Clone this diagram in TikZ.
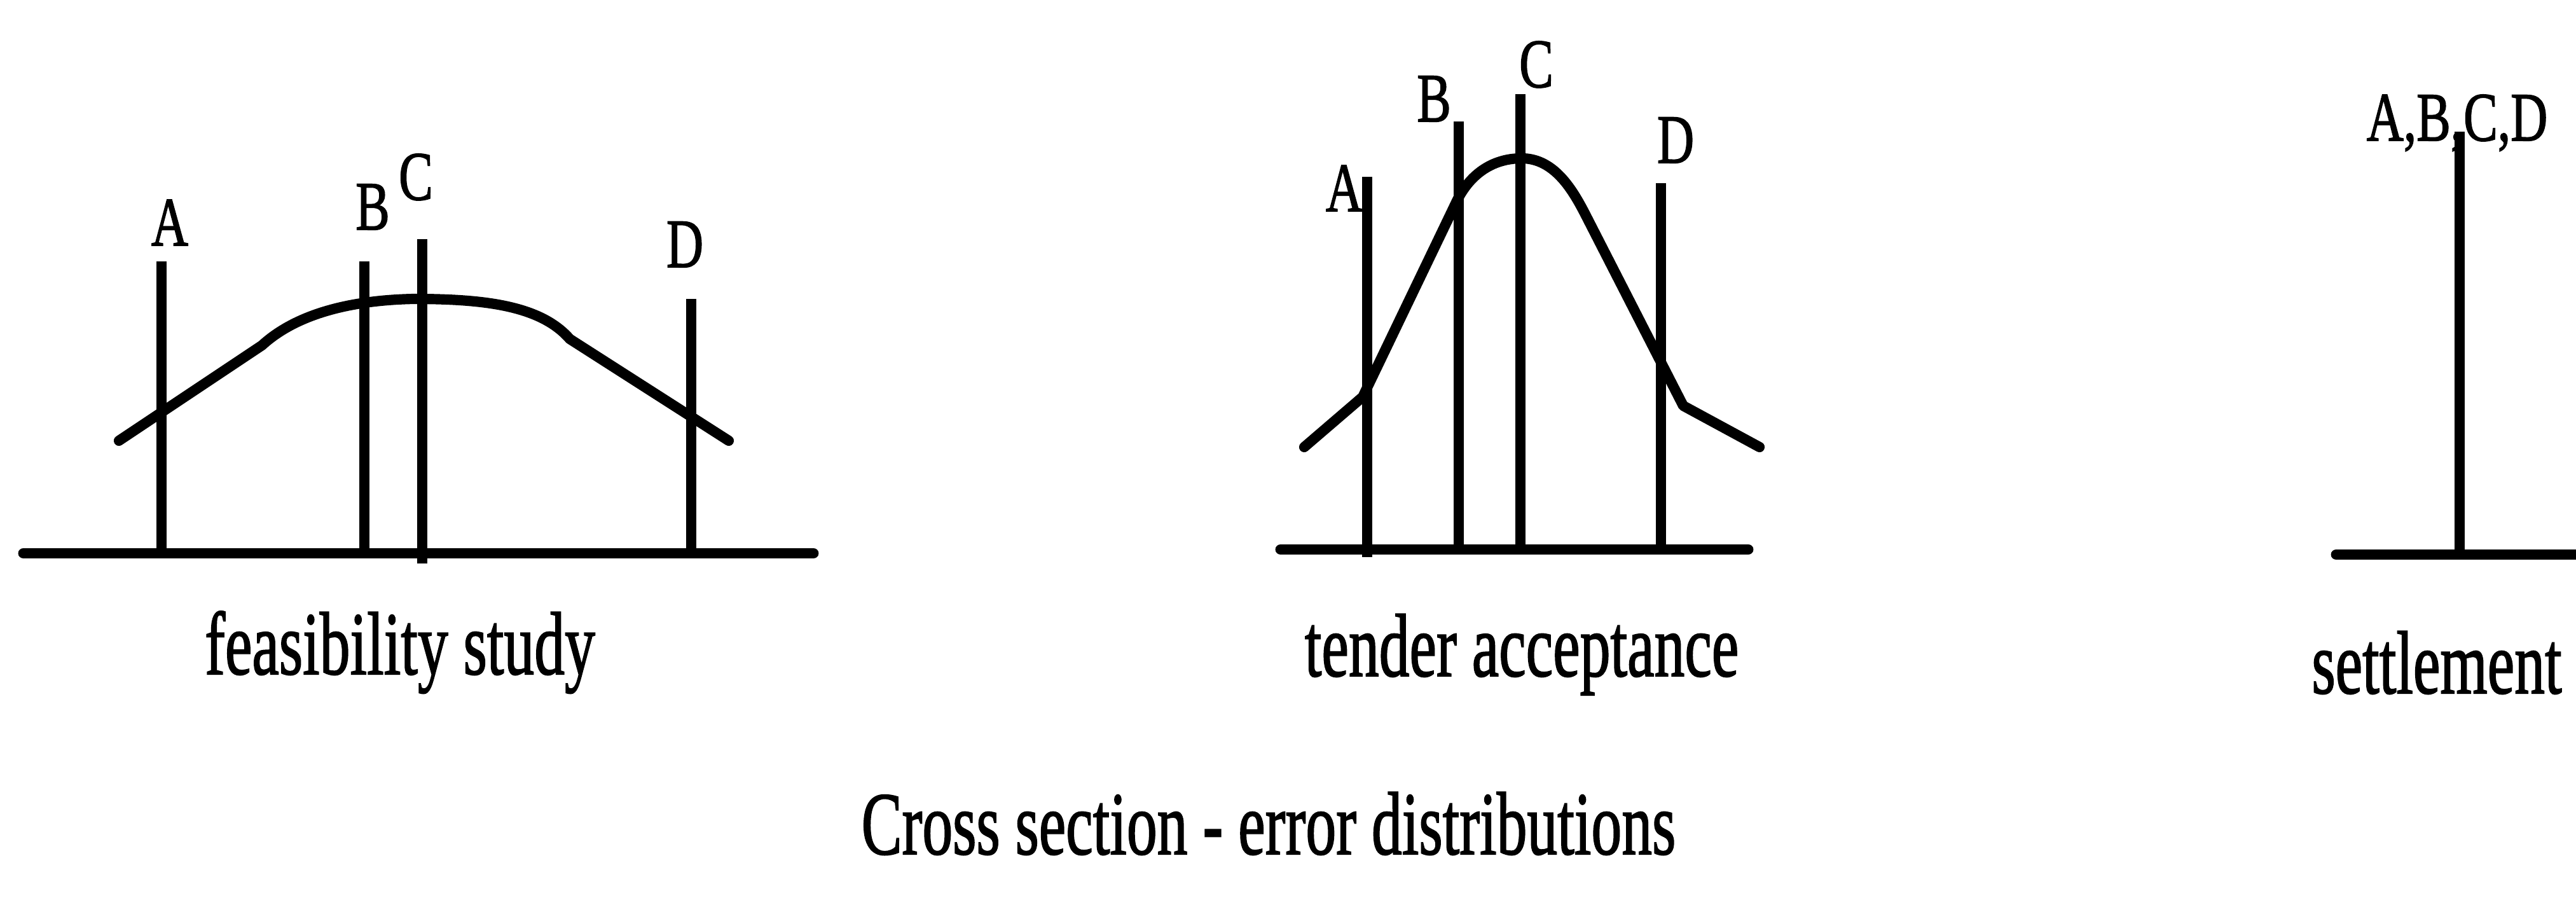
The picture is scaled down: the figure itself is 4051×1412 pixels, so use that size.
\documentclass[tikz,border=0pt]{standalone}
\usepackage{fontspec}
\setmainfont{Liberation Serif}
\newfontfamily\scanfont{Liberation Serif}[FakeBold=1.6]
\usepackage{tikz}
\usetikzlibrary{positioning}

\begin{document}
\begin{tikzpicture}[
    x=0.01cm, y=-0.01cm,
    axis/.style={
        line width=4.8pt,
        line cap=round
    },
    probe/.style={
        line width=4.3pt
    },
    spread/.style={
        line width=4.6pt,
        line cap=round,
        line join=round
    },
    letter/.style={
        font=\scanfont\fontsize{31}{34}\selectfont,
        inner sep=0pt,
        anchor=base,
        xscale=0.74,
        transform shape
    },
    caption/.style={
        font=\scanfont\fontsize{40}{44}\selectfont,
        inner sep=0pt,
        anchor=base,
        xscale=0.68,
        transform shape
    }
]
\useasboundingbox (0,0) rectangle (4051,1412);

% feasibility study
\coordinate (fbase) at (37,870);
\draw[axis] (fbase) -- (1279,870);
\coordinate (fA) at (254,411);
\coordinate (fB) at (573,411);
\coordinate (fC) at (664,376);
\coordinate (fD) at (1087,470);
\draw[probe] (fA) -- (fA |- fbase);
\draw[probe] (fB) -- (fB |- fbase);
\draw[probe] (fC) -- (664,886);
\draw[probe] (fD) -- (fD |- fbase);
\draw[spread] (187,693) -- (412,543)
    .. controls (470,490) and (560,472) .. (650,470)
    .. controls (760,470) and (850,480) .. (896,533) -- (1146,693);
\node[letter] (fAlab) at (267,386) {A};
\node[letter] (fBlab) at (586,361) {B};
\node[letter] (fClab) at (654,314) {C};
\node[letter] (fDlab) at (1077,420) {D};
\node[caption] (feas) at (629,1060) {feasibility study};

% tender acceptance
\coordinate (tbase) at (2014,864);
\draw[axis] (tbase) -- (2749,864);
\coordinate (tA) at (2150,278);
\coordinate (tB) at (2294,191);
\coordinate (tC) at (2391,148);
\coordinate (tD) at (2612,288);
\draw[probe] (tA) -- (2150,876);
\draw[probe] (tB) -- (tB |- tbase);
\draw[probe] (tC) -- (tC |- tbase);
\draw[probe] (tD) -- (tD |- tbase);
\draw[spread] (2051,703) -- (2143,624) -- (2290,318)
    .. controls (2310,276) and (2345,249) .. (2393,249)
    .. controls (2445,249) and (2474,300) .. (2494,339)
    -- (2647,638) -- (2767,703);
\node[letter] (tAlab) at (2114,332) {A};
\node[letter] (tBlab) at (2255,191) {B};
\node[letter] (tClab) at (2416,137) {C};
\node[letter] (tDlab) at (2635,256) {D};
\node[caption] (tender) at (2393,1063) {tender acceptance};

% settlement
\coordinate (sbase) at (3674,872);
\draw[axis] (sbase) -- (4051,872);
\coordinate (sAll) at (3868,207);
\draw[probe] (sAll) -- (sAll |- sbase);
\node[letter] (sAlllab) at (3864,221) {A,B,C,D};
\node[caption] (settle) at (3832,1090) {settlement};

% overall title
\node[caption] (title) at (1995,1343) {Cross section - error distributions};

\end{tikzpicture}
\end{document}
